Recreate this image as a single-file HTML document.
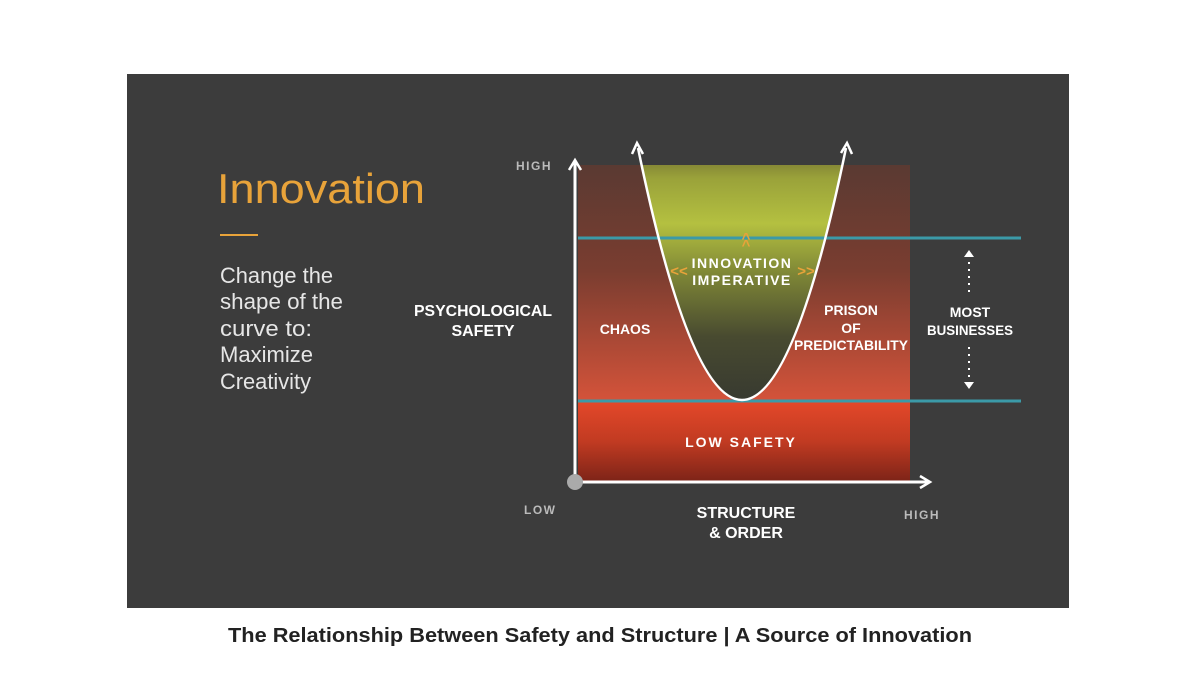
<!DOCTYPE html>
<html><head><meta charset="utf-8"><style>
body{margin:0;width:1200px;height:690px;background:#fff;overflow:hidden;font-family:"Liberation Sans",sans-serif}
</style></head><body>
<svg width="1200" height="690" xmlns="http://www.w3.org/2000/svg" style="position:absolute;left:0;top:0">
<defs>
<linearGradient id="up" x1="0" y1="0" x2="0" y2="1">
<stop offset="0" stop-color="#5a3a32"/><stop offset="0.45" stop-color="#7a3d30"/><stop offset="1" stop-color="#d4533a"/>
</linearGradient>
<linearGradient id="lo" x1="0" y1="0" x2="0" y2="1">
<stop offset="0" stop-color="#e4482a"/><stop offset="0.5" stop-color="#c23b22"/><stop offset="1" stop-color="#7e2418"/>
</linearGradient>
<linearGradient id="cv" x1="0" y1="0" x2="0" y2="1">
<stop offset="0" stop-color="#6e6a30"/><stop offset="0.12" stop-color="#9aa23a"/><stop offset="0.3" stop-color="#b4c040"/><stop offset="0.5" stop-color="#7e8636"/><stop offset="0.75" stop-color="#484a30"/><stop offset="1" stop-color="#383a30"/>
</linearGradient>
<clipPath id="rc"><rect x="578" y="165" width="332" height="236"/></clipPath>
</defs>
<rect x="127" y="74" width="942" height="534" fill="#3c3c3c"/>
<rect x="578" y="165" width="332" height="236" fill="url(#up)"/>
<rect x="578" y="401" width="332" height="80" fill="url(#lo)"/>
<path d="M638,148 Q742,652 846,148 Z" fill="url(#cv)" clip-path="url(#rc)"/>
<line x1="578" y1="238" x2="1021" y2="238" stroke="#3b9aa8" stroke-width="3"/>
<line x1="578" y1="401" x2="1021" y2="401" stroke="#3b9aa8" stroke-width="3"/>
<path d="M638,148 Q742,652 846,148" fill="none" stroke="#fff" stroke-width="2.5"/>
<path d="M632,154 L637,143 L643,154" fill="none" stroke="#fff" stroke-width="2.5"/>
<path d="M841,153 L847,143 L852,154" fill="none" stroke="#fff" stroke-width="2.5"/>
<line x1="575" y1="482" x2="575" y2="162" stroke="#fff" stroke-width="3"/>
<path d="M569,170 L575,160 L581,170" fill="none" stroke="#fff" stroke-width="2.5"/>
<line x1="575" y1="482" x2="928" y2="482" stroke="#fff" stroke-width="3"/>
<path d="M920,476 L930,482 L920,488" fill="none" stroke="#fff" stroke-width="2.5"/>
<circle cx="575" cy="482" r="8" fill="#aaa"/>
<g fill="#e8a33a" font-weight="bold" font-size="15">
<text x="746" y="243" text-anchor="middle">^</text><text x="746" y="250" text-anchor="middle">^</text>
<text x="679" y="276" text-anchor="middle">&lt;&lt;</text><text x="806" y="276" text-anchor="middle">&gt;&gt;</text>
</g>
<g fill="#fff" font-weight="bold" text-anchor="middle">
<text x="742" y="268" font-size="14" letter-spacing="1.5">INNOVATION</text>
<text x="742" y="285" font-size="14" letter-spacing="1.5">IMPERATIVE</text>
<text x="625" y="334" font-size="14">CHAOS</text>
<text x="851" y="315" font-size="14">PRISON</text>
<text x="851" y="333" font-size="14">OF</text>
<text x="851" y="350" font-size="14" textLength="114" lengthAdjust="spacingAndGlyphs">PREDICTABILITY</text>
<text x="741" y="447" font-size="14" letter-spacing="2">LOW SAFETY</text>
<text x="970" y="317" font-size="14">MOST</text>
<text x="970" y="335" font-size="14" textLength="86" lengthAdjust="spacingAndGlyphs">BUSINESSES</text>
<text x="483" y="316" font-size="16" textLength="138" lengthAdjust="spacingAndGlyphs">PSYCHOLOGICAL</text>
<text x="483" y="336" font-size="16">SAFETY</text>
<text x="746" y="518" font-size="16">STRUCTURE</text>
<text x="746" y="538" font-size="16">&amp; ORDER</text>
</g>
<g fill="#bbb" font-weight="bold" font-size="12" letter-spacing="1.5">
<text x="516" y="170">HIGH</text>
<text x="524" y="514">LOW</text>
<text x="904" y="519">HIGH</text>
</g>
<g stroke="#fff" stroke-width="2" stroke-dasharray="2,5">
<line x1="969" y1="262" x2="969" y2="293"/>
<line x1="969" y1="347" x2="969" y2="378"/>
</g>
<path d="M964,257 L969,250 L974,257 Z" fill="#fff"/>
<path d="M964,382 L969,389 L974,382 Z" fill="#fff"/>
<text x="217" y="203" fill="#e8a33a" font-size="42" textLength="208" lengthAdjust="spacingAndGlyphs">Innovation</text>
<line x1="220" y1="235" x2="258" y2="235" stroke="#e8a33a" stroke-width="2"/>
<g fill="#e6e6e6" font-size="22">
<text x="220" y="283" textLength="113" lengthAdjust="spacingAndGlyphs">Change the</text>
<text x="220" y="309" textLength="123" lengthAdjust="spacingAndGlyphs">shape of the</text>
<text x="220" y="336" textLength="92" lengthAdjust="spacingAndGlyphs">curve to:</text>
<text x="220" y="362" textLength="93" lengthAdjust="spacingAndGlyphs">Maximize</text>
<text x="220" y="389" textLength="91" lengthAdjust="spacingAndGlyphs">Creativity</text>
</g>
<text x="228" y="642" fill="#222" font-weight="bold" font-size="20" textLength="744" lengthAdjust="spacingAndGlyphs">The Relationship Between Safety and Structure | A Source of Innovation</text>
</svg>
</body></html>
